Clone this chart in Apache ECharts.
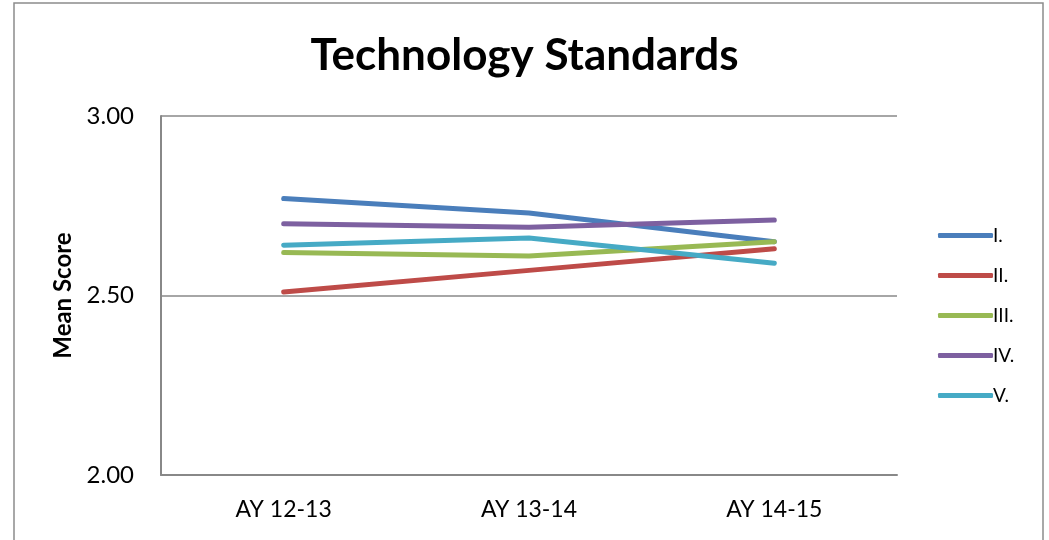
<!DOCTYPE html>
<html>
<head>
<meta charset="utf-8">
<script src="https://cdn.jsdelivr.net/npm/echarts@6/dist/echarts.min.js"></script>
<style>
  html, body { margin: 0; padding: 0; background: #fff; }
  #chart { width: 1049px; height: 540px; }
</style>
</head>
<body>
<div id="chart"></div>
<script>
  // 数据
  var categories = ["AY 12-13", "AY 13-14", "AY 14-15"];
  var seriesNames = ["I.", "II.", "III.", "IV.", "V."];
  var valuesI = [2.77, 2.73, 2.65];
  var valuesII = [2.51, 2.57, 2.63];
  var valuesIII = [2.62, 2.61, 2.65];
  var valuesIV = [2.70, 2.69, 2.71];
  var valuesV = [2.64, 2.66, 2.59];
  var colors = ["#4a7ebb", "#be4b48", "#98b954", "#7d60a0", "#46aac5"];

  var allValues = [valuesI, valuesII, valuesIII, valuesIV, valuesV];
  var font = "Lato, 'Open Sans', sans-serif";

  var chart = echarts.init(document.getElementById("chart"));
  chart.setOption({
    animation: false,
    color: colors,
    graphic: [
      {
        type: "rect",
        shape: { x: 14, y: 3, width: 1029, height: 560 },
        style: { fill: "none", stroke: "#8c8c8c", lineWidth: 1.5 },
        silent: true
      }
    ],
    title: {
      text: "Technology Standards",
      left: "center",
      top: 29,
      textStyle: { fontFamily: font, fontSize: 44, fontWeight: "bold", color: "#000" }
    },
    legend: {
      orient: "vertical",
      left: 933,
      top: 221,
      itemWidth: 55,
      itemHeight: 5,
      itemGap: 21,
      icon: "roundRect",
      textStyle: { fontFamily: font, fontSize: 19, color: "#000", padding: [0, 0, 0, -5] },
      data: seriesNames
    },
    grid: { left: 161, right: 152, top: 116, bottom: 65, containLabel: false },
    xAxis: {
      type: "category",
      data: categories,
      boundaryGap: true,
      axisLine: { lineStyle: { color: "#888", width: 2 } },
      axisTick: { show: false },
      axisLabel: { fontFamily: font, fontSize: 23, color: "#000", margin: 23 }
    },
    yAxis: {
      type: "value",
      min: 2,
      max: 3,
      interval: 0.5,
      name: "Mean Score",
      nameLocation: "middle",
      nameGap: 84,
      nameTextStyle: { fontFamily: font, fontSize: 24, fontWeight: "bold", color: "#000" },
      axisLine: { show: true, lineStyle: { color: "#888", width: 2 } },
      axisTick: { show: false },
      splitLine: { lineStyle: { color: "#888", width: 1.5 } },
      axisLabel: {
        fontFamily: font, fontSize: 24, color: "#000", margin: 27,
        formatter: function (v) { return v.toFixed(2); }
      }
    },
    series: seriesNames.map(function (name, i) {
      return {
        name: name,
        type: "line",
        data: allValues[i],
        symbol: "none",
        lineStyle: { width: 5, cap: "round", join: "round" }
      };
    })
  });
</script>
</body>
</html>
